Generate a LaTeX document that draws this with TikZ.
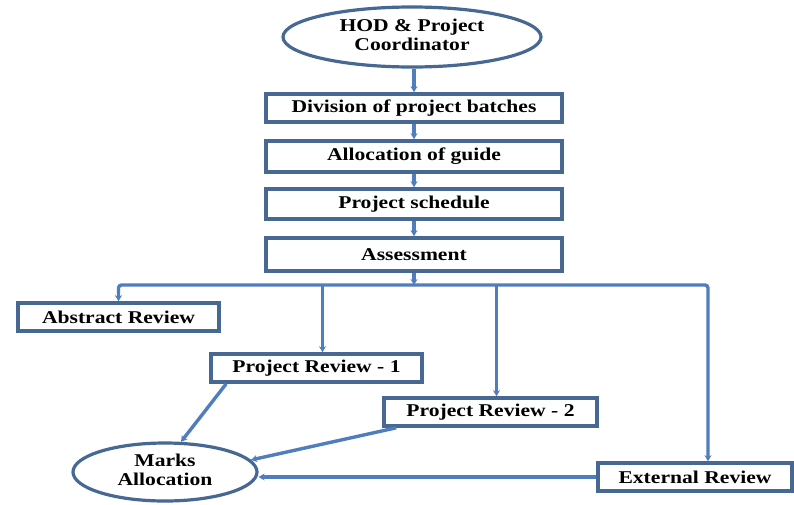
\documentclass[tikz,border=0pt]{standalone}
\usepackage{fontspec}
\usepackage{graphicx}
\setmainfont{Liberation Serif}
\usetikzlibrary{shapes.geometric,arrows.meta,calc}
\definecolor{boxline}{RGB}{72,104,148}
\definecolor{conn}{RGB}{79,125,189}
\newcommand{\wtxt}[1]{\scalebox{1.2}[1]{#1}}
\newcommand{\wtwo}[2]{\scalebox{1.2}[1]{\begin{tabular}{@{}c@{}}#1\\[1pt]#2\end{tabular}}}
\tikzset{
  lbl/.style={font=\fontsize{18}{18}\selectfont\bfseries, text=black, inner sep=0pt},
  stepbox/.style={lbl, draw=boxline, line width=3.6pt, fill=white, rectangle},
  oval/.style={lbl, draw=boxline, line width=3.2pt, fill=white, ellipse},
  link/.style={draw=conn, line width=3.4pt, -{Stealth[length=6pt,width=7pt]}}
}
\begin{document}
\begin{tikzpicture}[x=1pt,y=-1pt]
\useasboundingbox (0,0) rectangle (794,504);
% top chain
\node[oval, minimum width=258pt, minimum height=60pt] (hod) at (412,37) {\wtwo{HOD \& Project}{Coordinator}};
\node[stepbox, minimum width=296pt, minimum height=28pt] (div) at (414,108) {\wtxt{Division of project batches}};
\node[stepbox, minimum width=296pt, minimum height=31pt] (alloc) at (414,156.5) {\wtxt{Allocation of guide}};
\node[stepbox, minimum width=296pt, minimum height=30pt] (sched) at (414,204) {\wtxt{Project schedule}};
\node[stepbox, minimum width=296pt, minimum height=33pt] (assess) at (414,254.5) {\wtxt{Assessment}};
% reviews
\node[stepbox, minimum width=201pt, minimum height=28pt] (abs) at (118.5,317) {\wtxt{Abstract Review}};
\node[stepbox, minimum width=211pt, minimum height=28pt] (pr1) at (316.5,368) {\wtxt{Project Review - 1}};
\node[stepbox, minimum width=213pt, minimum height=28pt] (pr2) at (490.5,412) {\wtxt{Project Review - 2}};
\node[stepbox, minimum width=194pt, minimum height=28pt] (ext) at (695,477) {\wtxt{External Review}};
\node[oval, minimum width=184pt, minimum height=58pt] (marks) at (165,472) {\wtwo{Marks}{Allocation}};
% bus
\coordinate (bus) at (414,285);
% connectors
\draw[link] (hod.south -| div.north) -- (div.north);
\draw[link] (div) -- (alloc);
\draw[link] (alloc) -- (sched);
\draw[link] (sched) -- (assess);
\draw[link] (assess.south) -- (bus);
\draw[link, rounded corners=3pt] (bus) -| (abs.north);
\draw[link, rounded corners=3pt] (bus) -| ([xshift=13pt]ext.north);
\draw[link] ([xshift=6pt]pr1.north |- bus) -- ([xshift=6pt]pr1.north);
\draw[link] ([xshift=6pt]pr2.north |- bus) -- ([xshift=6pt]pr2.north);
\draw[link] ([xshift=17pt]pr1.south west) -- (marks.62);
\draw[link] ([xshift=14pt]pr2.south west) -- (marks.8);
\draw[link] (ext.west) -- (marks.east |- ext.west);
\end{tikzpicture}
\end{document}
